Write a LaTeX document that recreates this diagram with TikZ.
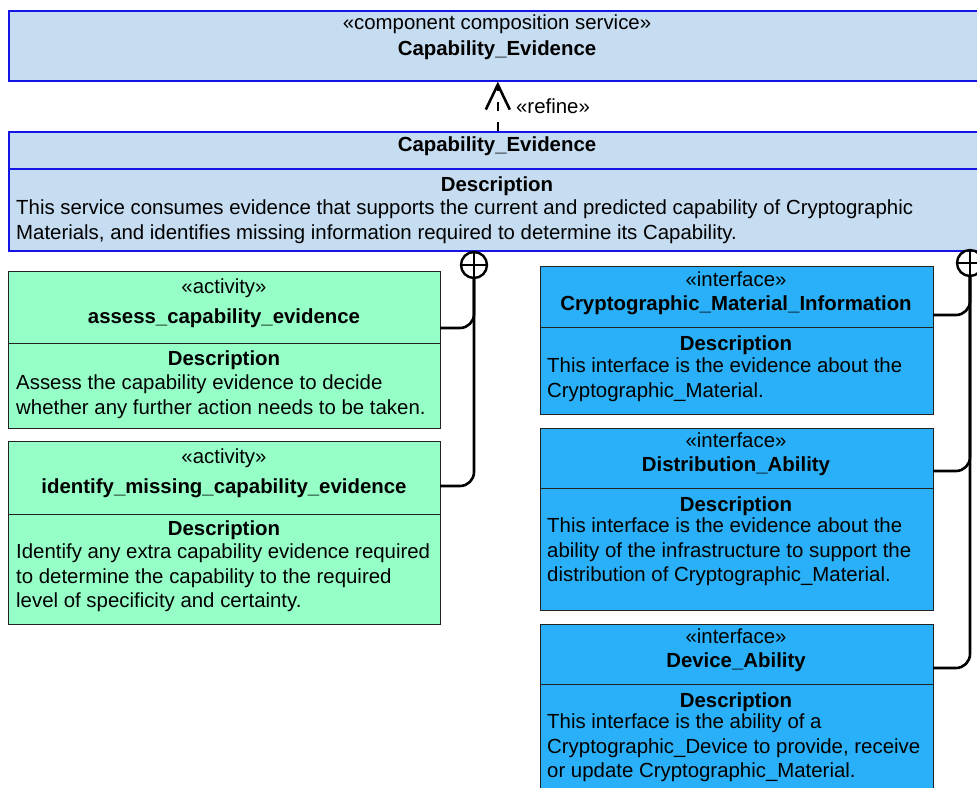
\documentclass[tikz,border=0pt]{standalone}
\usepackage{fontspec}
\setmainfont{Liberation Sans}
\usetikzlibrary{arrows.meta}

\definecolor{svcfill}{HTML}{C6DCF0}
\definecolor{svcline}{HTML}{1414E6}
\definecolor{actfill}{HTML}{96FFC8}
\definecolor{iffill}{HTML}{2AB0F8}
\definecolor{boxline}{HTML}{222222}

\tikzset{
  svc/.style={draw=svcline, fill=svcfill, line width=1.6, anchor=north west, inner sep=0},
  act/.style={draw=boxline, fill=actfill, line width=1.4, anchor=north west, inner sep=0, minimum width=432},
  ifc/.style={draw=boxline, fill=iffill, line width=1.4, anchor=north west, inner sep=0, minimum width=393},
  lbl/.style={font=\fontsize{20.4}{24}\selectfont, inner sep=0, anchor=base},
  ttl/.style={font=\fontsize{20.4}{24}\selectfont\bfseries, inner sep=0, anchor=base},
  body/.style={font=\fontsize{20.4}{24.4}\selectfont, inner sep=0, anchor=north west, align=left},
  conn/.style={draw=black, line width=2.6, rounded corners=14},
  own/.style={circle, draw=black, line width=2.4, minimum size=26, inner sep=0},
}

\begin{document}
\begin{tikzpicture}[x=1pt, y=-1pt]
\useasboundingbox (0,0) rectangle (977,787);
\clip (0,0) rectangle (977,787);

% component composition service
\node[svc, minimum width=978, minimum height=70] (top) at (8,10) {};
\node[lbl] (topst) at (497,29) {«component composition service»};
\node[ttl] (topnm) at (497,55) {Capability\_Evidence};

% refined service with description
\node[svc, minimum width=978, minimum height=37] (midhead) at (8,131) {};
\node[svc, minimum width=978, minimum height=82] (midbody) at (8,168) {};
\node[ttl] (midnm) at (497,151) {Capability\_Evidence};
\node[ttl] (middh) at (497,191) {Description};
\node[body] (midtx) at (16,197.6) {\strut This service consumes evidence that supports the current and predicted capability of Cryptographic\\Materials, and identifies missing information required to determine its Capability.};

% refine dependency
\draw[line width=2.6, dash pattern=on 9 off 11,
  -{Straight Barb[length=25,width=24,line width=2.6]}] (midhead.north) -- (top.south);
\node[lbl] (refl) at (553,113) {«refine»};

% activities
\node[act, minimum height=72] (gahead) at (8,271) {};
\node[act, minimum height=85] (gabody) at (8,343) {};
\node[lbl] (gast) at (224,293) {«activity»};
\node[ttl] (ganm) at (224,323) {assess\_capability\_evidence};
\node[ttl] (gadh) at (224,365) {Description};
\node[body] (gatx) at (16,372.6) {\strut Assess the capability evidence to decide\\whether any further action needs to be taken.};

\node[act, minimum height=73] (gbhead) at (8,441) {};
\node[act, minimum height=110] (gbbody) at (8,514) {};
\node[lbl] (gbst) at (224,463) {«activity»};
\node[ttl] (gbnm) at (224,493) {identify\_missing\_capability\_evidence};
\node[ttl] (gbdh) at (224,535) {Description};
\node[body] (gbtx) at (16,541.6) {\strut Identify any extra capability evidence required\\to determine the capability to the required\\level of specificity and certainty.};

% interfaces
\node[ifc, minimum height=61] (iahead) at (540,266) {};
\node[ifc, minimum height=87] (iabody) at (540,327) {};
\node[lbl] (iast) at (736,286) {«interface»};
\node[ttl] (ianm) at (736,310) {Cryptographic\_Material\_Information};
\node[ttl] (iadh) at (736,350) {Description};
\node[body] (iatx) at (547,355.6) {\strut This interface is the evidence about the\\Cryptographic\_Material.};

\node[ifc, minimum height=60] (ibhead) at (540,428) {};
\node[ifc, minimum height=122] (ibbody) at (540,488) {};
\node[lbl] (ibst) at (736,447) {«interface»};
\node[ttl] (ibnm) at (736,471) {Distribution\_Ability};
\node[ttl] (ibdh) at (736,511) {Description};
\node[body] (ibtx) at (547,515.6) {\strut This interface is the evidence about the\\ability of the infrastructure to support the\\distribution of Cryptographic\_Material.};

\node[ifc, minimum height=60] (ichead) at (540,624) {};
\node[ifc, minimum height=130] (icbody) at (540,684) {};
\node[lbl] (icst) at (736,643) {«interface»};
\node[ttl] (icnm) at (736,667) {Device\_Ability};
\node[ttl] (icdh) at (736,707) {Description};
\node[body] (ictx) at (547,711.6) {\strut This interface is the ability of a\\Cryptographic\_Device to provide, receive\\or update Cryptographic\_Material.};

% ownership connectors
\node[own] (lown) at (474,265) {};
\draw[line width=2.4] (lown.north) -- (lown.south) (lown.west) -- (lown.east);
\coordinate (gaport) at (440,328);
\coordinate (gbport) at (440,486);
\draw[conn] (gaport) -| (lown.south);
\draw[conn] (lown.south) |- (gbport);

\node[own] (rown) at (970,263) {};
\draw[line width=2.4] (rown.north) -- (rown.south) (rown.west) -- (rown.east);
\coordinate (iaport) at (933,315);
\coordinate (ibport) at (933,471);
\coordinate (icport) at (933,668);
\draw[conn] (iaport) -| (rown.south);
\draw[conn] (ibport) -| (rown.south);
\draw[conn] (rown.south) |- (icport);
\end{tikzpicture}
\end{document}
